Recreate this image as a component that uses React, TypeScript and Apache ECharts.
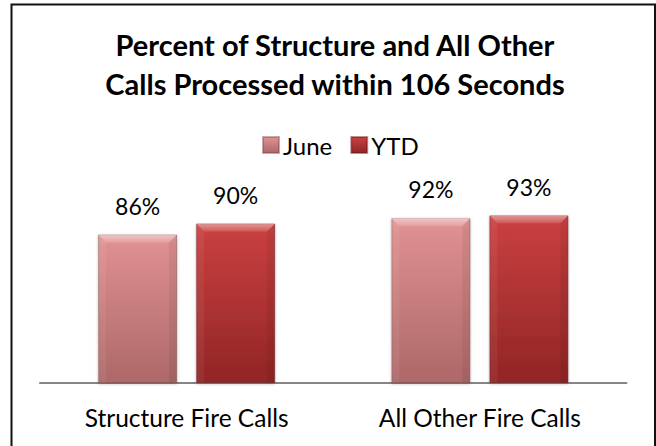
import React, { useEffect, useRef } from "react";
import * as echarts from "echarts";

const categories = ["Structure Fire Calls", "All Other Fire Calls"];
const seriesNames = ["June", "YTD"];
const juneValues = [86, 92];
const ytdValues = [90, 93];
const titleLines = ["Percent of Structure and All Other", "Calls Processed within 106 Seconds"];

const FONT = "Lato, 'Open Sans', sans-serif";
const BAR_W = 79;
const BAR_GAP_PX = 19;
const Y_MIN = 32;

function vgrad(stops: [number, string][]) {
  return new echarts.graphic.LinearGradient(
    0, 0, 0, 1,
    stops.map(([offset, color]) => ({ offset, color }))
  );
}

function bevelSeries(values: number[], offset: number) {
  return {
    type: "custom",
    silent: true,
    z: 5,
    data: values.map((v, i) => [i, v]),
    renderItem: (params: any, api: any) => {
      const idx = api.value(0);
      const top = api.coord([idx, api.value(1)]);
      const bottom = api.coord([idx, Y_MIN]);
      const cx = top[0] + offset;
      const l = cx - BAR_W / 2;
      const r = cx + BAR_W / 2;
      const t = top[1];
      const b = bottom[1];
      const d = 8;
      return {
        type: "group",
        children: [
          {
            type: "polygon",
            shape: { points: [[l, t], [r, t], [r - d, t + d], [l + d, t + d]] },
            style: {
              fill: new echarts.graphic.LinearGradient(0, 0, 0, 1, [
                { offset: 0, color: "rgba(255,255,255,0.45)" },
                { offset: 1, color: "rgba(255,255,255,0.12)" },
              ]),
            },
          },
          {
            type: "polygon",
            shape: { points: [[l, t], [l + d, t + d], [l + d, b], [l, b]] },
            style: { fill: "rgba(255,255,255,0.06)" },
          },
          {
            type: "polygon",
            shape: { points: [[r, t], [r - d, t + d], [r - d, b], [r, b]] },
            style: { fill: "rgba(0,0,0,0.06)" },
          },
        ],
      };
    },
  };
}

export default function App() {
  const ref = useRef<HTMLDivElement>(null);
  useEffect(() => {
    if (!ref.current) return;
    const chart = echarts.init(ref.current, null, { renderer: "svg" });
    const labelStyle = {
      show: true,
      position: "top" as const,
      distance: 17,
      fontFamily: FONT,
      fontSize: 23,
      color: "#000",
      formatter: "{c}%",
    };
    const half = (BAR_W + BAR_GAP_PX) / 2;
    chart.setOption({
      animation: false,
      backgroundColor: "#fff",
      graphic: [
        {
          type: "rect",
          shape: { x: 11.5, y: 4.5, width: 643.5, height: 500 },
          style: { fill: "none", stroke: "#111", lineWidth: 2 },
          silent: true,
        },
        {
          type: "text",
          x: 335,
          y: 63.5,
          style: {
            text: titleLines.join("\n"),
            fontFamily: FONT,
            fontSize: 29,
            fontWeight: "bold",
            lineHeight: 39,
            fill: "#000",
            align: "center",
            verticalAlign: "middle",
          },
        },
      ],
      legend: {
        data: seriesNames,
        left: 257,
        top: 128,
        itemWidth: 16,
        itemHeight: 16,
        itemGap: 18,
        icon: "rect",
        textStyle: { fontFamily: FONT, fontSize: 24, color: "#000", padding: [0, 0, 0, -1] },
      },
      grid: { left: 40, right: 29.5, top: 196, bottom: 63.5 },
      xAxis: {
        type: "category",
        data: categories,
        axisLine: { show: true, lineStyle: { color: "#868686", width: 2 } },
        axisTick: { show: false },
        axisLabel: { fontFamily: FONT, fontSize: 24.5, color: "#000", margin: 22 },
      },
      yAxis: {
        type: "value",
        min: Y_MIN,
        max: 100,
        show: false,
        splitLine: { show: false },
      },
      series: [
        {
          name: seriesNames[0],
          type: "bar",
          data: juneValues,
          barWidth: BAR_W,
          barGap: (BAR_GAP_PX / BAR_W) * 100 + "%",
          label: labelStyle,
          itemStyle: {
            color: vgrad([[0, "#e59a9a"], [0.08, "#dd8e8e"], [1, "#ad6868"]]),
            borderColor: "rgba(130,70,70,0.45)",
            borderWidth: 1,
            shadowBlur: 3,
            shadowColor: "rgba(0,0,0,0.3)",
            shadowOffsetY: 1,
          },
        },
        {
          name: seriesNames[1],
          type: "bar",
          data: ytdValues,
          barWidth: BAR_W,
          label: labelStyle,
          itemStyle: {
            color: vgrad([[0, "#cf4646"], [0.08, "#c63e3e"], [1, "#912525"]]),
            borderColor: "rgba(100,20,20,0.45)",
            borderWidth: 1,
            shadowBlur: 3,
            shadowColor: "rgba(0,0,0,0.3)",
            shadowOffsetY: 1,
          },
        },
        bevelSeries(juneValues, -half),
        bevelSeries(ytdValues, half),
      ],
    });
    return () => chart.dispose();
  }, []);
  return (
    <div
      ref={ref}
      style={{ position: "fixed", left: 0, top: 0, width: 656, height: 446 }}
    />
  );
}
